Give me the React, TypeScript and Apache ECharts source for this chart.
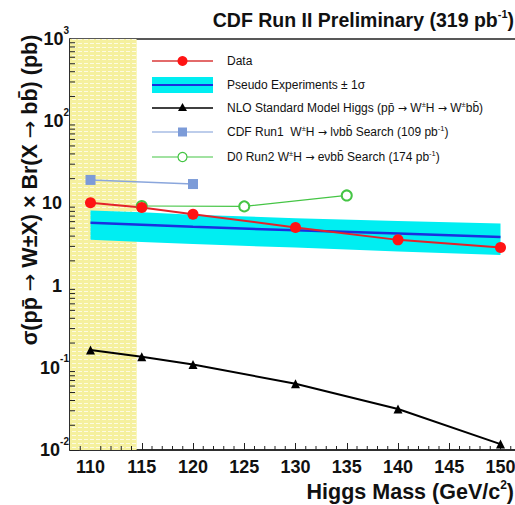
import React, { useEffect, useRef } from 'react';
import * as echarts from 'echarts';

// Higgs mass points (GeV/c^2)
const MASS = [110, 115, 120, 130, 140, 150];
// Observed 95% CL limit (pb)
const DATA_LIMIT = [10.2, 8.9, 7.4, 5.1, 3.6, 2.9];
// Pseudo experiments: median and +-1 sigma band (pb)
const PSEUDO_MEDIAN = [5.8, 5.5, 5.2, 4.7, 4.3, 3.9];
const PSEUDO_LOW = [3.6, 3.4, 3.2, 2.9, 2.6, 2.35];
const PSEUDO_HIGH = [8.2, 7.8, 7.3, 6.6, 6.1, 5.7];
// NLO Standard Model prediction (pb)
const NLO_SM = [0.165, 0.136, 0.11, 0.064, 0.0315, 0.0118];
// CDF Run1 search
const CDF_RUN1_MASS = [110, 120];
const CDF_RUN1 = [19.3, 17.2];
// D0 Run2 search
const D0_MASS = [115, 125, 135];
const D0_RUN2 = [9.3, 9.2, 12.5];
// LEP excluded mass region
const LEP_EXCLUSION = [108, 114.5];

const X_MIN = 108;
const X_MAX = 152;
const Y_MIN = 0.01;
const Y_MAX = 1000;

const FONT = "'Liberation Sans', Arial, Helvetica, sans-serif";
const ARROW_FONT = "'DejaVu Sans', sans-serif";

function makeLepPattern(): any {
  const c = document.createElement('canvas');
  c.width = 6;
  c.height = 4;
  const ctx = c.getContext('2d');
  if (!ctx) return '#f5f09c';
  ctx.fillStyle = '#f5f09e';
  ctx.fillRect(0, 0, 6, 4);
  ctx.fillStyle = '#fdfbe2';
  ctx.fillRect(0, 3, 4, 1);
  return { image: c, repeat: 'repeat' };
}

export default function App() {
  const ref = useRef<HTMLDivElement>(null);

  useEffect(() => {
    if (!ref.current) return;
    const chart = echarts.init(ref.current, null, { renderer: 'svg' });

    // minor ticks: [x, y, kind] kind 0 = bottom axis, 1 = left axis
    const minorTicks: number[][] = [];
    for (let m = 109; m <= 151; m++) {
      if (m % 5 !== 0) minorTicks.push([m, Y_MIN, 0]);
    }
    for (let e = -2; e < 3; e++) {
      for (let k = 2; k <= 9; k++) minorTicks.push([X_MIN, k * Math.pow(10, e), 1]);
    }

    const supLabel = (v: number) => {
      const e = Math.round(Math.log10(v));
      if (e === 0) return '{b|1}{g|}';
      if (e === 1) return '{b|10}{g|}';
      return `{b|10}{s|${e}}`;
    };

    const legendRows = [61, 85, 108, 132, 157];
    const lx1 = 152;
    const lx2 = 213;
    const lxm = (lx1 + lx2) / 2;
    const tx = 227;
    const legendText = (y: number, text: string) => ({
      type: 'text',
      x: tx,
      y,
      style: {
        text,
        fill: '#111',
        verticalAlign: 'middle',
        rich: {
          t: { fontSize: 12, fontFamily: FONT, fill: '#111', lineHeight: 16 },
          a: { fontSize: 11, fontFamily: ARROW_FONT, fill: '#111', lineHeight: 16 },
          s: { fontSize: 7.5, fontFamily: FONT, fill: '#111', verticalAlign: 'top', lineHeight: 16 },
        },
      },
    });

    const option: any = {
      animation: false,
      textStyle: { fontFamily: FONT },
      grid: {
        left: 70,
        top: 39,
        bottom: 55,
        right: 14,
        show: true,
        borderColor: '#222',
        borderWidth: 1.5,
      },
      xAxis: {
        type: 'value',
        min: X_MIN,
        max: X_MAX,
        minInterval: 5,
        maxInterval: 5,
        splitNumber: 8,
        axisLine: { lineStyle: { color: '#222', width: 1.5 } },
        axisTick: { inside: true, length: 7, lineStyle: { color: '#222', width: 1 } },
        splitLine: { show: false },
        axisLabel: {
          margin: 8,
          color: '#111',
          fontSize: 18,
          fontWeight: 'bold',
          fontFamily: FONT,
          showMinLabel: false,
          showMaxLabel: false,
        },
      },
      yAxis: {
        type: 'log',
        logBase: 10,
        min: Y_MIN,
        max: Y_MAX,
        splitNumber: 5,
        axisLine: { show: true, lineStyle: { color: '#222', width: 1.5 } },
        axisTick: { show: true, inside: true, length: 9, lineStyle: { color: '#222', width: 1 } },
        splitLine: { show: false },
        axisLabel: {
          margin: 1,
          formatter: supLabel,
          rich: {
            b: { fontSize: 18, fontWeight: 'bold', fontFamily: FONT, color: '#111', lineHeight: 28 },
            s: { fontSize: 10, fontWeight: 'bold', fontFamily: FONT, color: '#111', verticalAlign: 'top', lineHeight: 28 },
            g: { width: 7, lineHeight: 28 },
          },
        },
      },
      series: [
        {
          name: 'LEP Exclusion',
          type: 'line',
          data: [],
          silent: true,
          markArea: {
            silent: true,
            label: { show: false },
            itemStyle: { color: makeLepPattern() },
            data: [[{ xAxis: LEP_EXCLUSION[0] }, { xAxis: LEP_EXCLUSION[1] }]],
          },
        },
        {
          name: 'Pseudo band',
          type: 'custom',
          silent: true,
          clip: true,
          data: MASS.map((m, i) => [m, PSEUDO_LOW[i], PSEUDO_HIGH[i]]),
          encode: { x: 0, y: [1, 2] },
          renderItem: (params: any, api: any) => {
            if (params.dataIndex !== 0) return { type: 'group', children: [] };
            const upper = MASS.map((m, i) => api.coord([m, PSEUDO_HIGH[i]]));
            const lower = MASS.map((m, i) => api.coord([m, PSEUDO_LOW[i]])).reverse();
            return {
              type: 'polygon',
              shape: { points: [...upper, ...lower] },
              style: { fill: '#00eef2' },
            };
          },
        },
        {
          name: 'Pseudo median',
          type: 'line',
          silent: true,
          symbol: 'none',
          data: MASS.map((m, i) => [m, PSEUDO_MEDIAN[i]]),
          lineStyle: { color: '#1a2fe0', width: 2.5 },
        },
        {
          name: 'NLO SM',
          type: 'line',
          silent: true,
          symbol: 'triangle',
          symbolSize: 9,
          data: MASS.map((m, i) => [m, NLO_SM[i]]),
          itemStyle: { color: '#000' },
          lineStyle: { color: '#000', width: 2 },
        },
        {
          name: 'CDF Run1',
          type: 'line',
          silent: true,
          symbol: 'rect',
          symbolSize: 10,
          data: CDF_RUN1_MASS.map((m, i) => [m, CDF_RUN1[i]]),
          itemStyle: { color: '#7c9bd8' },
          lineStyle: { color: '#8aa6dc', width: 1.5 },
        },
        {
          name: 'D0 Run2',
          type: 'line',
          silent: true,
          symbol: 'emptyCircle',
          symbolSize: 10,
          data: D0_MASS.map((m, i) => [m, D0_RUN2[i]]),
          itemStyle: { color: '#45c545', borderWidth: 1.2 },
          lineStyle: { color: '#45c545', width: 1.2 },
        },
        {
          name: 'Data',
          type: 'line',
          silent: true,
          symbol: 'circle',
          symbolSize: 11,
          data: MASS.map((m, i) => [m, DATA_LIMIT[i]]),
          itemStyle: { color: '#ff1414' },
          lineStyle: { color: '#e3232a', width: 2 },
        },
        {
          name: 'minor ticks',
          type: 'custom',
          silent: true,
          clip: false,
          data: minorTicks,
          encode: { x: 0, y: 1 },
          renderItem: (params: any, api: any) => {
            const kind = api.value(2);
            const p = api.coord([api.value(0), api.value(1)]);
            if (kind === 0) {
              return {
                type: 'line',
                shape: { x1: p[0], y1: p[1], x2: p[0], y2: p[1] - 4 },
                style: { stroke: '#222', lineWidth: 1 },
              };
            }
            return {
              type: 'line',
              shape: { x1: p[0], y1: p[1], x2: p[0] + 5, y2: p[1] },
              style: { stroke: '#222', lineWidth: 1 },
            };
          },
        },
      ],
      graphic: [
        {
          type: 'text',
          x: 514,
          y: 20,
          style: {
            text: '{t|CDF Run II Preliminary (319 pb}{s|-1}{t|)}',
            textAlign: 'right',
            verticalAlign: 'middle',
            rich: {
              t: { fontSize: 19.5, fontWeight: 'bold', fontFamily: FONT, fill: '#111', lineHeight: 24 },
              s: { fontSize: 11, fontWeight: 'bold', fontFamily: FONT, fill: '#111', verticalAlign: 'top', lineHeight: 24 },
            },
          },
        },
        {
          type: 'text',
          x: 514,
          y: 492,
          style: {
            text: '{t|Higgs Mass (GeV/c}{s|2}{t|)}',
            textAlign: 'right',
            verticalAlign: 'middle',
            rich: {
              t: { fontSize: 21.5, fontWeight: 'bold', fontFamily: FONT, fill: '#111', lineHeight: 26 },
              s: { fontSize: 12, fontWeight: 'bold', fontFamily: FONT, fill: '#111', verticalAlign: 'top', lineHeight: 26 },
            },
          },
        },
        {
          type: 'text',
          x: 30,
          y: 190,
          rotation: Math.PI / 2,
          style: {
            text: '{t|σ(pp\u0304 }{a|→}{t| W±X) × Br(X }{a|→}{t| bb\u0304) (pb)}',
            fill: '#111',
            textAlign: 'center',
            verticalAlign: 'middle',
            rich: {
              t: { fontSize: 21.5, fontWeight: 'bold', fontFamily: FONT, fill: '#111', lineHeight: 26 },
              a: { fontSize: 21, fontFamily: ARROW_FONT, fill: '#111', lineHeight: 26 },
            },
          },
        },
        {
          type: 'text',
          x: 103,
          y: 111,
          rotation: Math.PI / 2,
          style: {
            text: 'LEP Exclusion',
            font: `bold 12px ${FONT}`,
            fill: '#111',
            textAlign: 'center',
            verticalAlign: 'middle',
          },
        },
        // legend: Data
        { type: 'line', shape: { x1: lx1, y1: legendRows[0], x2: lx2, y2: legendRows[0] }, style: { stroke: '#e36a6a', lineWidth: 2 } },
        { type: 'circle', shape: { cx: lxm, cy: legendRows[0], r: 5 }, style: { fill: '#ff1414' } },
        legendText(legendRows[0], '{t|Data}'),
        // legend: pseudo experiments
        { type: 'rect', shape: { x: lx1, y: legendRows[1] - 8, width: lx2 - lx1, height: 16 }, style: { fill: '#00eef2' } },
        { type: 'line', shape: { x1: lx1, y1: legendRows[1], x2: lx2, y2: legendRows[1] }, style: { stroke: '#1a2fe0', lineWidth: 2 } },
        legendText(legendRows[1], '{t|Pseudo Experiments ± 1σ}'),
        // legend: NLO SM
        { type: 'line', shape: { x1: lx1, y1: legendRows[2], x2: lx2, y2: legendRows[2] }, style: { stroke: '#000', lineWidth: 1.5 } },
        { type: 'polygon', shape: { points: [[lxm, legendRows[2] - 5], [lxm - 4.5, legendRows[2] + 3], [lxm + 4.5, legendRows[2] + 3]] }, style: { fill: '#000' } },
        legendText(legendRows[2], '{t|NLO Standard Model Higgs (pp\u0304 }{a|→}{t| W}{s|±}{t|H }{a|→}{t| W}{s|±}{t|bb\u0304)}'),
        // legend: CDF Run1
        { type: 'line', shape: { x1: lx1, y1: legendRows[3], x2: lx2, y2: legendRows[3] }, style: { stroke: '#7c9bd8', lineWidth: 1.2 } },
        { type: 'rect', shape: { x: lxm - 4.5, y: legendRows[3] - 4.5, width: 9, height: 9 }, style: { fill: '#7c9bd8' } },
        legendText(legendRows[3], '{t|CDF Run1  W}{s|±}{t|H }{a|→}{t| lνbb\u0304 Search (109 pb}{s|-1}{t|)}'),
        // legend: D0 Run2
        { type: 'line', shape: { x1: lx1, y1: legendRows[4], x2: lx2, y2: legendRows[4] }, style: { stroke: '#45c545', lineWidth: 1.2 } },
        { type: 'circle', shape: { cx: lxm, cy: legendRows[4], r: 4.5 }, style: { fill: '#fff', stroke: '#45c545', lineWidth: 1.2 } },
        legendText(legendRows[4], '{t|D0 Run2 W}{s|±}{t|H }{a|→}{t| eνbb\u0304 Search (174 pb}{s|-1}{t|)}'),
      ],
    };

    chart.setOption(option);
    return () => chart.dispose();
  }, []);

  return (
    <div
      style={{
        position: 'fixed',
        left: 0,
        top: 0,
        width: 515,
        height: 505,
        overflow: 'hidden',
        background: '#fff',
      }}
    >
      <div ref={ref} style={{ width: 535, height: 505 }} />
    </div>
  );
}
